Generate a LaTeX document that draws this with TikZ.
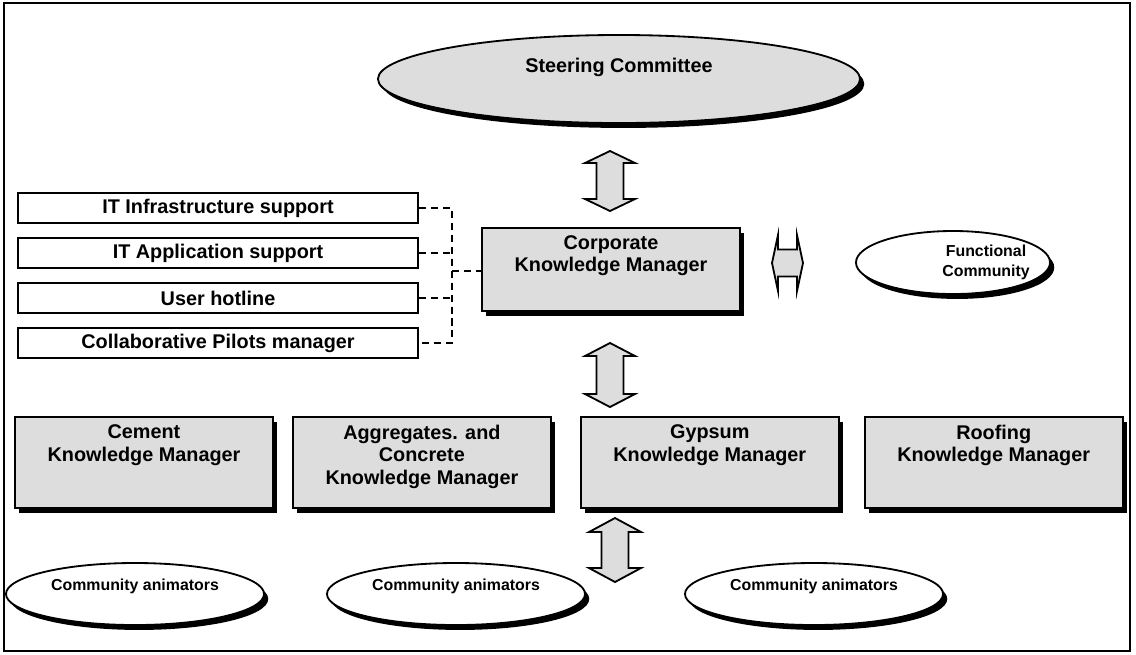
\documentclass[tikz,border=0pt]{standalone}
\usepackage{fontspec}
\setmainfont{Liberation Sans}
\usetikzlibrary{positioning,shadows,shapes.geometric}
\definecolor{boxgray}{RGB}{221,221,221}
\tikzstyle{support} = [rectangle, draw, line width=1.4pt, fill=white, text centered, minimum width=10cm, minimum height=0.75cm, inner sep=0pt, font=\fontsize{14.1}{16}\selectfont\bfseries]
\tikzstyle{manager} = [rectangle, draw, line width=1.3pt, fill=boxgray, minimum width=6.45cm, minimum height=2.275cm, drop shadow={shadow xshift=3pt, shadow yshift=-3.5pt, fill=black, opacity=1}]
\tikzstyle{bubble} = [ellipse, draw, line width=1.3pt, fill=white, inner sep=0pt, drop shadow={shadow xshift=3pt, shadow yshift=-3.5pt, fill=black, opacity=1}]
\tikzstyle{bigtext} = [align=center, font=\fontsize{14.1}{16}\selectfont\bfseries]
\tikzstyle{smalltext} = [align=center, font=\fontsize{11.3}{14}\selectfont\bfseries]
\tikzstyle{blockarrow} = [draw, line width=1.3pt, fill=boxgray]
\tikzstyle{link} = [line width=1.5pt, dash pattern=on 5pt off 3.5pt]
\tikzset{
  pics/dblarrow/.style n args={3}{code={
    \draw [blockarrow] (0,-#1) -- (#3,-#1+#2) -- (13.5,-#1+#2) -- (13.5,#1-#2) -- (#3,#1-#2) -- (0,#1)
      -- (-#3,#1-#2) -- (-13.5,#1-#2) -- (-13.5,-#1+#2) -- (-#3,-#1+#2) -- cycle;
  }}
}

\begin{document}
\begin{tikzpicture}[x=0.025cm, y=-0.025cm]
    \useasboundingbox (0,0) rectangle (1136,654);
    \draw [line width=1.5pt] (4,3) rectangle (1130,651);
    % top
    \node (sc) [bubble, fill=boxgray, minimum width=12.05cm, minimum height=2.2cm,
        label={[bigtext, yshift=0.3cm]center:Steering Committee}] at (619,79) {};
    % support services
    \node (it1) [support] at (218,208) {IT Infrastructure support};
    \node (it2) [support, below=0.325cm of it1] {IT Application support};
    \node (it3) [support, below=0.325cm of it2] {User hotline};
    \node (it4) [support, below=0.325cm of it3] {Collaborative Pilots manager};
    \node (corp) [manager, minimum height=2.075cm,
        label={[bigtext, anchor=north, yshift=-0.09cm]north:Corporate\\Knowledge Manager}] at (611,269.5) {};
    \node (fc) [bubble, minimum width=4.85cm, minimum height=1.575cm,
        label={[smalltext, xshift=0.825cm]center:Functional\\Community}] at (953,262.5) {};
    % business lines
    \node (cement) [manager, label={[bigtext, anchor=north, yshift=-0.09cm]north:Cement\\Knowledge Manager}] at (144,462.5) {};
    \node (aggr) [manager, right=0.45cm of cement,
        label={[bigtext, anchor=north, yshift=-0.09cm]north:Aggregates. and\\Concrete\\Knowledge Manager}] {};
    \node (gyps) [manager, right=0.7cm of aggr,
        label={[bigtext, anchor=north, yshift=-0.09cm]north:Gypsum\\Knowledge Manager}] {};
    \node (roof) [manager, right=0.6cm of gyps,
        label={[bigtext, anchor=north, yshift=-0.09cm]north:Roofing\\Knowledge Manager}] {};
    % communities
    \node (com1) [bubble, minimum width=6.45cm, minimum height=1.55cm,
        label={[smalltext, yshift=0.2cm]center:Community animators}] at (135,594) {};
    \node (com2) [bubble, minimum width=6.45cm, minimum height=1.55cm,
        label={[smalltext, yshift=0.2cm]center:Community animators}] at (456,594) {};
    \node (com3) [bubble, minimum width=6.45cm, minimum height=1.55cm,
        label={[smalltext, yshift=0.2cm]center:Community animators}] at (814,594) {};
    % block arrows
    \pic (ar1) at (610,181) {dblarrow={30}{12}{25}};
    \pic (ar2) at (610,375) {dblarrow={32}{13}{25}};
    \pic (ar3) at (615,550) {dblarrow={32}{14}{26}};
    \pic (ar4) [rotate=90] at (787.5,263) {dblarrow={15.5}{6}{28}};
    % dashed links
    \coordinate (hub) at (452,271);
    \draw [link] (it1.east) -- (it1.east -| hub) -- (it4.east -| hub) -- (it4.east);
    \draw [link] (it2.east) -- (it2.east -| hub);
    \draw [link] (it3.east) -- (it3.east -| hub);
    \draw [link] (hub) -- (hub -| corp.west);
\end{tikzpicture}
\end{document}
